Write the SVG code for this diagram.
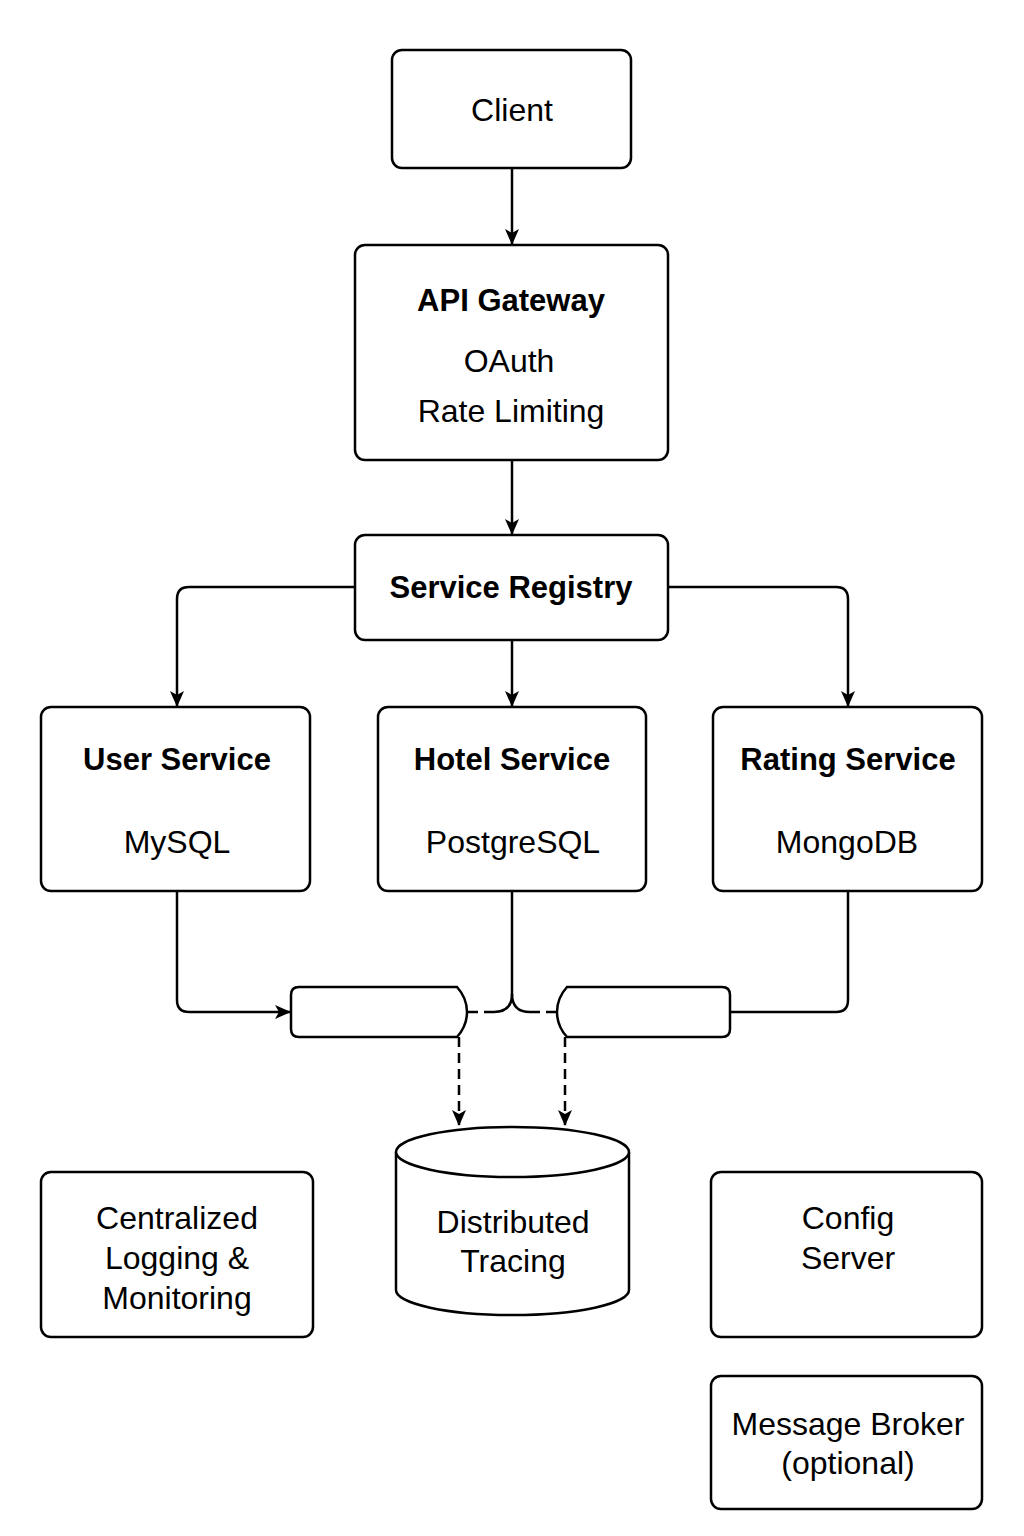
<svg xmlns="http://www.w3.org/2000/svg" width="1024" height="1536" viewBox="0 0 1024 1536">
<defs>
<marker id="ah" markerWidth="16" markerHeight="14" refX="15" refY="7" orient="auto" markerUnits="userSpaceOnUse">
<path d="M0,0 L16,7 L0,14 L4,7 Z" fill="#000"/>
</marker>
<style>
.box{fill:#fff;stroke:#000;stroke-width:2.5}
.t{font-family:"Liberation Sans",Arial,sans-serif;font-size:32px;fill:#000;text-anchor:middle}
.b{font-weight:bold;font-size:31px}
.c{fill:none;stroke:#000;stroke-width:2.5}
.d{fill:none;stroke:#000;stroke-width:2.5;stroke-dasharray:10 6}
</style>
</defs>
<rect width="1024" height="1536" fill="#fff"/>
<g id="connectors">
<path class="c" d="M512,168 V244" marker-end="url(#ah)"/>
<path class="c" d="M512,460 V534" marker-end="url(#ah)"/>
<path class="c" d="M512,640 V706" marker-end="url(#ah)"/>
<path class="c" d="M355,587 H189 Q177,587 177,599 V706" marker-end="url(#ah)"/>
<path class="c" d="M668,587 H836 Q848,587 848,599 V706" marker-end="url(#ah)"/>
<path class="c" d="M177,891 V1000 Q177,1012 189,1012 H290" marker-end="url(#ah)"/>
<path class="c" d="M848,891 V1000 Q848,1012 836,1012 H730"/>
<path class="c" d="M512,891 V994"/>
<path class="c" d="M512,994 Q512,1012 494,1012"/>
<path class="c" d="M512,994 Q512,1012 530,1012"/>
<path class="d" d="M494,1012 H467" stroke-dasharray="12 6 10"/>
<path class="d" d="M530,1012 H557" stroke-dasharray="12 6 10"/>
<path class="d" d="M459,1037 V1125" marker-end="url(#ah)"/>
<path class="d" d="M565,1037 V1125" marker-end="url(#ah)"/>
</g>
<g id="client">
<rect class="box" x="392" y="50" width="239" height="118" rx="10"/>
<text class="t" x="512" y="121">Client</text>
</g>
<g id="api-gateway">
<rect class="box" x="355" y="245" width="313" height="215" rx="10"/>
<text class="t b" x="511" y="311">API Gateway</text>
<text class="t" x="509" y="372">OAuth</text>
<text class="t" x="511" y="422">Rate Limiting</text>
</g>
<g id="service-registry">
<rect class="box" x="355" y="535" width="313" height="105" rx="10"/>
<text class="t b" x="511" y="598">Service Registry</text>
</g>
<g id="user-service">
<rect class="box" x="41" y="707" width="269" height="184" rx="10"/>
<text class="t b" x="177" y="770">User Service</text>
<text class="t" x="177" y="853">MySQL</text>
</g>
<g id="hotel-service">
<rect class="box" x="378" y="707" width="268" height="184" rx="10"/>
<text class="t b" x="512" y="770">Hotel Service</text>
<text class="t" x="513" y="853">PostgreSQL</text>
</g>
<g id="rating-service">
<rect class="box" x="713" y="707" width="269" height="184" rx="10"/>
<text class="t b" x="848" y="770">Rating Service</text>
<text class="t" x="847" y="853">MongoDB</text>
</g>
<g id="queue-left">
<path class="box" d="M299,987 H457 Q467,998 467,1012 Q467,1026 457,1037 H299 Q291,1037 291,1029 V995 Q291,987 299,987 Z"/>
</g>
<g id="queue-right">
<path class="box" d="M567,987 H722 Q730,987 730,995 V1029 Q730,1037 722,1037 H567 Q557,1026 557,1012 Q557,998 567,987 Z"/>
</g>
<g id="distributed-tracing">
<path class="box" d="M396,1152 V1290 A116.5,25 0 0 0 629,1290 V1152"/>
<ellipse class="box" cx="512.5" cy="1152" rx="116.5" ry="25"/>
<text class="t" x="513" y="1233">Distributed</text>
<text class="t" x="513" y="1272">Tracing</text>
</g>
<g id="logging">
<rect class="box" x="41" y="1172" width="272" height="165" rx="10"/>
<text class="t" x="177" y="1229">Centralized</text>
<text class="t" x="177" y="1269">Logging &amp;</text>
<text class="t" x="177" y="1309">Monitoring</text>
</g>
<g id="config-server">
<rect class="box" x="711" y="1172" width="271" height="165" rx="10"/>
<text class="t" x="848" y="1229">Config</text>
<text class="t" x="848" y="1269">Server</text>
</g>
<g id="message-broker">
<rect class="box" x="711" y="1376" width="271" height="133" rx="10"/>
<text class="t" x="848" y="1435">Message Broker</text>
<text class="t" x="848" y="1474">(optional)</text>
</g>
</svg>
